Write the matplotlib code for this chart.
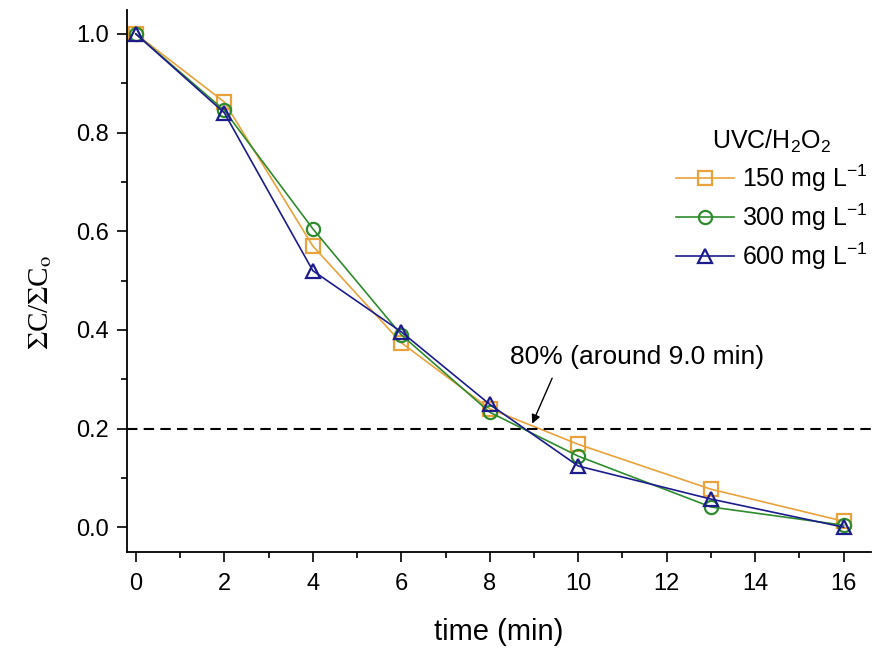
import numpy as np
import matplotlib
matplotlib.use("Agg")
import matplotlib.pyplot as plt
from matplotlib.ticker import MultipleLocator, FormatStrFormatter

plt.rcParams['font.family'] = ['Liberation Sans', 'DejaVu Sans']
plt.rcParams['mathtext.fontset'] = 'custom'
plt.rcParams['mathtext.rm'] = 'Liberation Sans'
plt.rcParams['mathtext.it'] = 'Liberation Sans:italic'

# datos
tiempo = [0, 2, 4, 6, 8, 10, 13, 16]
c150 = [1.0, 0.862, 0.570, 0.374, 0.240, 0.168, 0.077, 0.012]
c300 = [1.0, 0.845, 0.605, 0.390, 0.233, 0.144, 0.041, 0.004]
c600 = [1.0, 0.840, 0.520, 0.396, 0.249, 0.124, 0.057, 0.000]
etiquetas = ['150 mg L$^{-1}$', '300 mg L$^{-1}$', '600 mg L$^{-1}$']
colores = ['#E9A23B', '#2E8B2E', '#1C1C8C']
marcadores = ['s', 'o', '^']
umbral = 0.2

fig = plt.figure(figsize=(8.79, 6.5), dpi=100)
ax = fig.add_axes([0.1445, 0.151, 0.846, 0.834])

for serie, lab, col, mk in zip([c150, c300, c600], etiquetas, colores, marcadores):
    ax.plot(tiempo, serie, color=col, marker=mk, markersize=9.5, markerfacecolor='none',
            markeredgewidth=1.6, linewidth=1.2, label=lab)

# linea del 80 %
ax.axhline(umbral, color='black', linestyle=(0, (5, 3)), linewidth=1.5)
ax.text(11.34, 0.345, '80% (around 9.0 min)', fontsize=19, ha='center', va='center')
ax.annotate('', xy=(8.96, 0.21), xytext=(9.41, 0.302),
            arrowprops=dict(arrowstyle='-|>', color='black', lw=1.0,
                            shrinkA=0, shrinkB=0, mutation_scale=13))

ax.set_xlim(-0.2, 16.61)
ax.set_ylim(-0.05, 1.049)
ax.xaxis.set_major_locator(MultipleLocator(2))
ax.xaxis.set_minor_locator(MultipleLocator(1))
ax.yaxis.set_major_locator(MultipleLocator(0.2))
ax.yaxis.set_minor_locator(MultipleLocator(0.1))
ax.yaxis.set_major_formatter(FormatStrFormatter('%.1f'))
ax.tick_params(which='major', direction='out', length=7, width=1.2, labelsize=17, pad=6)
ax.tick_params(axis='x', which='major', pad=8)
ax.tick_params(which='minor', direction='out', length=4, width=1.2)
ax.spines['top'].set_visible(False)
ax.spines['right'].set_visible(False)
ax.spines['left'].set_linewidth(1.3)
ax.spines['bottom'].set_linewidth(1.3)

ax.set_xlabel('time (min)', fontsize=21, labelpad=17)
ax.set_ylabel(r'$\Sigma$C/$\Sigma$C$_\mathrm{o}$', fontsize=21, labelpad=16,
              family='Liberation Serif', math_fontfamily='stix')
ax.yaxis.label.set_y(0.46)

leg = ax.legend(title='UVC/H$_2$O$_2$', frameon=False, fontsize=18, title_fontsize=18,
                loc='center', bbox_to_anchor=(772/879, 1 - 200/650),
                bbox_transform=fig.transFigure, handlelength=2.3,
                handletextpad=0.32, labelspacing=0.3)

fig.savefig('out.png', dpi=100)
